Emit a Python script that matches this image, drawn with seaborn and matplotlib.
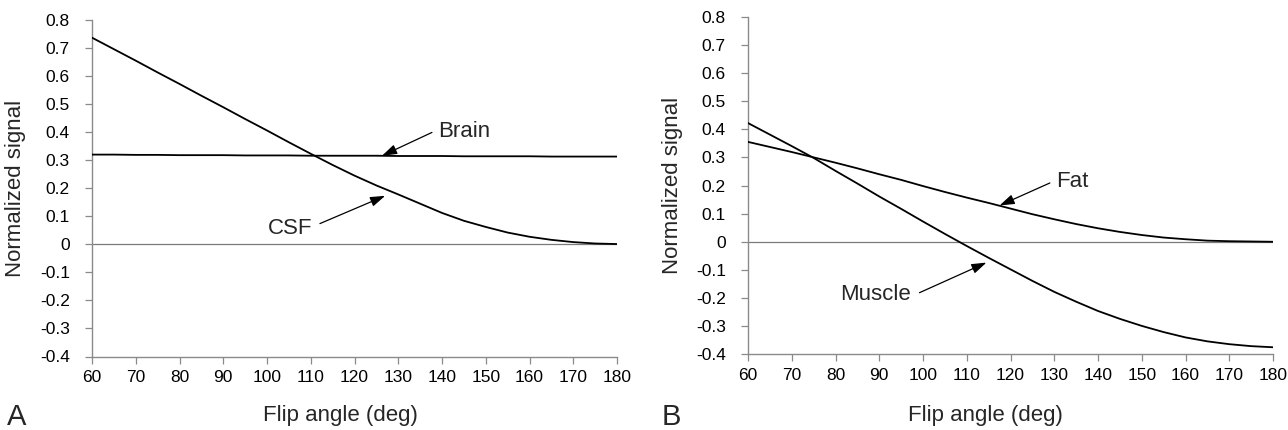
import matplotlib
matplotlib.use("Agg")
import matplotlib.pyplot as plt
import seaborn as sns
import pandas as pd

# ---------------- data ----------------
angles = [60, 65, 70, 75, 80, 85, 90, 95, 100, 105, 110, 115, 120,
          125, 130, 135, 140, 145, 150, 155, 160, 165, 170, 175, 180]

csf = [0.737, 0.696, 0.655, 0.613, 0.572, 0.530, 0.489, 0.447, 0.406,
       0.364, 0.323, 0.283, 0.245, 0.210, 0.178, 0.145, 0.112, 0.084,
       0.062, 0.042, 0.027, 0.016, 0.008, 0.003, 0.001]
brain = [0.320, 0.320, 0.319, 0.319, 0.318, 0.318, 0.318, 0.317, 0.317,
         0.317, 0.316, 0.316, 0.316, 0.316, 0.315, 0.315, 0.315, 0.314,
         0.314, 0.314, 0.314, 0.313, 0.313, 0.313, 0.313]

muscle = [0.422, 0.381, 0.340, 0.298, 0.252, 0.207, 0.161, 0.117, 0.072,
          0.028, -0.015, -0.057, -0.098, -0.139, -0.178, -0.213, -0.246,
          -0.274, -0.299, -0.321, -0.340, -0.354, -0.364, -0.371, -0.375]
fat = [0.355, 0.337, 0.319, 0.300, 0.281, 0.261, 0.240, 0.220, 0.198,
       0.177, 0.157, 0.138, 0.118, 0.098, 0.080, 0.063, 0.048, 0.035,
       0.024, 0.015, 0.009, 0.004, 0.002, 0.001, 0.000]

x_ticks = [60, 70, 80, 90, 100, 110, 120, 130, 140, 150, 160, 170, 180]
y_ticks = [-0.4, -0.3, -0.2, -0.1, 0.0, 0.1, 0.2, 0.3, 0.4, 0.5, 0.6, 0.7, 0.8]
y_tick_labels = ["-0.4", "-0.3", "-0.2", "-0.1", "0", "0.1", "0.2", "0.3",
                 "0.4", "0.5", "0.6", "0.7", "0.8"]

x_label = "Flip angle (deg)"
y_label = "Normalized signal"

# ---------------- style ----------------
sns.set_style("ticks")
plt.rcParams["font.family"] = ["Liberation Sans", "DejaVu Sans"]

W, H = 1288, 430
fig = plt.figure(figsize=(W / 100, H / 100), dpi=100)

def frac_box(x0, x1, ytop, ybot):
    return [x0 / W, 1 - ybot / H, (x1 - x0) / W, (ybot - ytop) / H]

axA = fig.add_axes(frac_box(92, 617, 20, 356.5))
axB = fig.add_axes(frac_box(748, 1273, 16.7, 354.3))

dfA = pd.DataFrame({"angle": angles * 2,
                    "signal": csf + brain,
                    "tissue": ["CSF"] * len(angles) + ["Brain"] * len(angles)})
dfB = pd.DataFrame({"angle": angles * 2,
                    "signal": muscle + fat,
                    "tissue": ["Muscle"] * len(angles) + ["Fat"] * len(angles)})

grey = "#8a8a8a"
for ax, df in [(axA, dfA), (axB, dfB)]:
    ax.axhline(0, color="#7a7a7a", lw=0.9, zorder=1)
    sns.lineplot(data=df, x="angle", y="signal", units="tissue",
                 estimator=None, color="black", lw=1.3, ax=ax, zorder=3,
                 legend=False)
    ax.set_xlim(60, 180)
    ax.set_ylim(-0.4, 0.8)
    ax.set_xticks(x_ticks)
    ax.set_xticklabels([str(t) for t in x_ticks])
    ax.set_yticks(y_ticks)
    ax.set_yticklabels(y_tick_labels)
    for s in ["top", "right"]:
        ax.spines[s].set_visible(False)
    for s in ["left", "bottom"]:
        ax.spines[s].set_color(grey)
        ax.spines[s].set_linewidth(1.0)
    ax.tick_params(axis="y", direction="out", length=5, width=0.9,
                   color=grey, labelsize=12.5, pad=11, labelcolor="black")
    ax.tick_params(axis="x", direction="out", length=5, width=0.9,
                   color=grey, labelsize=12.5, pad=5, labelcolor="black")
    ax.set_xlabel(x_label, fontsize=16)
    ax.set_ylabel(y_label, fontsize=16)
    ax.set_facecolor("white")

axA.xaxis.set_label_coords(0.473, -0.174)
axB.xaxis.set_label_coords(0.452, -0.18)
axA.yaxis.set_label_coords(-0.145, 0.5)
axB.yaxis.set_label_coords(-0.143, 0.5)
for ax in (axA, axB):
    ax.xaxis.label.set_va("center")
    ax.yaxis.label.set_va("center")

arrow = dict(arrowstyle="-|>,head_length=0.9,head_width=0.3",
             color="black", lw=0.9, shrinkA=0, shrinkB=0)

# Panel A annotations
axA.text(139.1, 0.402, "Brain", fontsize=16, ha="left", va="center")
axA.annotate("", xy=(126.3, 0.316), xytext=(137.7, 0.399), arrowprops=arrow)
axA.text(110.3, 0.055, "CSF", fontsize=16, ha="right", va="center")
axA.annotate("", xy=(127.0, 0.173), xytext=(112.1, 0.074), arrowprops=arrow)

# Panel B annotations
axB.text(130.5, 0.215, "Fat", fontsize=16, ha="left", va="center")
axB.annotate("", xy=(117.5, 0.129), xytext=(129.0, 0.209), arrowprops=arrow)
axB.text(97.3, -0.187, "Muscle", fontsize=16, ha="right", va="center")
axB.annotate("", xy=(114.5, -0.074), xytext=(99.2, -0.181), arrowprops=arrow)

# Panel letters
fig.text(7 / W, 1 - 417 / H, "A", fontsize=21, ha="left", va="center")
fig.text(662 / W, 1 - 417 / H, "B", fontsize=21, ha="left", va="center")

fig.savefig("out.png", dpi=100, facecolor="white")
